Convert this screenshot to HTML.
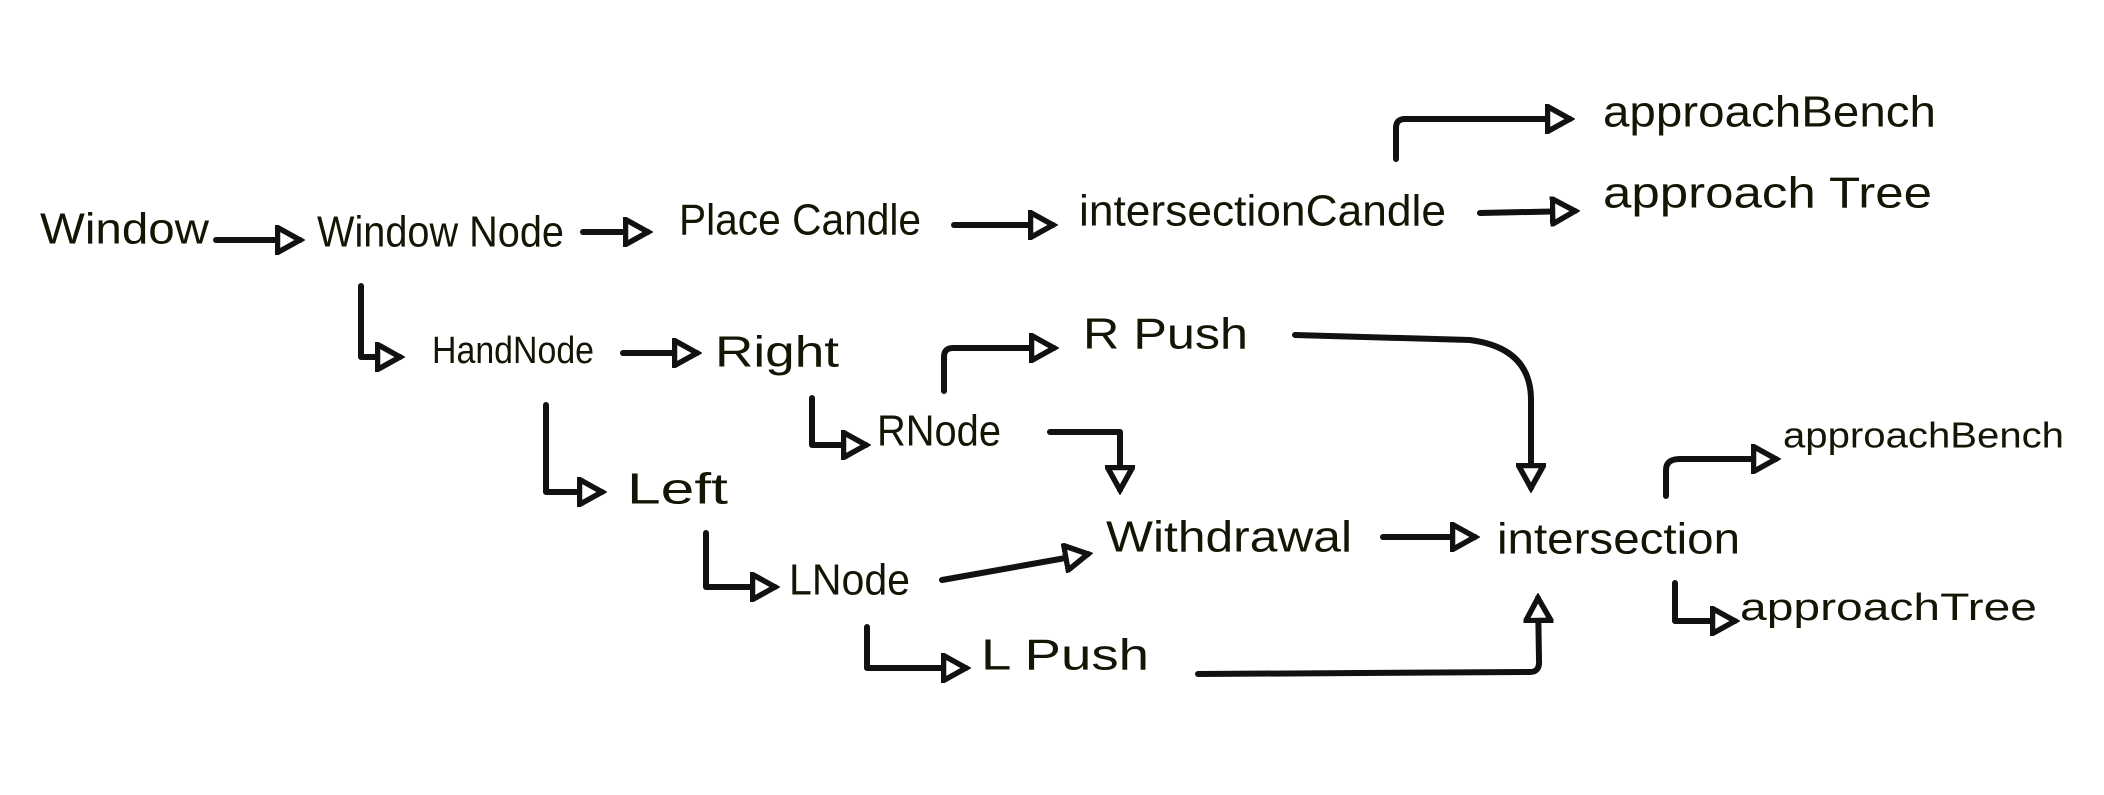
<!DOCTYPE html>
<html><head><meta charset="utf-8"><style>
html,body{margin:0;padding:0;background:#fff;}
svg{display:block}
text{font-family:"Liberation Sans",sans-serif;fill:#151505;dominant-baseline:middle;}
</style></head><body>
<svg width="2104" height="795" viewBox="0 0 2104 795" xmlns="http://www.w3.org/2000/svg">
<defs>
<marker id="a" viewBox="0 0 12 12" refX="10" refY="6" markerWidth="5" markerHeight="5" orient="auto" markerUnits="strokeWidth">
<path d="M1,1 L10,6 L1,11 Z" fill="#fff" stroke="#111" stroke-width="2.2"/>
</marker>
</defs>
<g fill="none" stroke="#111" stroke-width="6" stroke-linecap="round" stroke-linejoin="round" marker-end="url(#a)">
<path d="M216,240 L300,240"/>
<path d="M583,232 L648,232"/>
<path d="M954,225 L1053,225"/>
<path d="M1480,213 L1575,211"/>
<path d="M1396,159 L1396,128 Q1396,119 1405,119 L1570,119"/>
<path d="M361,286 L361,357 L400,357"/>
<path d="M623,353 L697,353"/>
<path d="M944,391 L944,357 Q944,348 953,348 L1054,348"/>
<path d="M1295,335 L1470,340 Q1531,348 1531,400 L1531,488"/>
<path d="M812,398 L812,445 L866,445"/>
<path d="M1050,432 L1120,432 L1120,490"/>
<path d="M546,405 L546,492 L602,492"/>
<path d="M706,533 L706,587 L775,587"/>
<path d="M942,580 L1088,554"/>
<path d="M1383,537 L1475,537"/>
<path d="M867,627 L867,668 L966,668"/>
<path d="M1198,674 L1530,672 Q1540,672 1539,660 L1538,598"/>
<path d="M1666,496 L1666,470 Q1666,459 1680,459 L1776,459"/>
<path d="M1675,583 L1675,621 L1735,621"/>
</g>
<g font-size="44">
<text x="40" y="232" textLength="169" lengthAdjust="spacingAndGlyphs">Window</text>
<text x="317" y="235" textLength="247" lengthAdjust="spacingAndGlyphs">Window Node</text>
<text x="679" y="223" textLength="242" lengthAdjust="spacingAndGlyphs">Place Candle</text>
<text x="1079" y="214" textLength="367" lengthAdjust="spacingAndGlyphs">intersectionCandle</text>
<text x="1603" y="115" textLength="333" lengthAdjust="spacingAndGlyphs">approachBench</text>
<text x="1603" y="196" textLength="329" lengthAdjust="spacingAndGlyphs">approach Tree</text>
<text x="432" y="353" font-size="38" textLength="162" lengthAdjust="spacingAndGlyphs">HandNode</text>
<text x="715" y="355" textLength="124" lengthAdjust="spacingAndGlyphs">Right</text>
<text x="1083" y="337" textLength="165" lengthAdjust="spacingAndGlyphs">R Push</text>
<text x="877" y="434" textLength="124" lengthAdjust="spacingAndGlyphs">RNode</text>
<text x="627" y="492" textLength="101" lengthAdjust="spacingAndGlyphs">Left</text>
<text x="789" y="583" textLength="121" lengthAdjust="spacingAndGlyphs">LNode</text>
<text x="1106" y="540" textLength="246" lengthAdjust="spacingAndGlyphs">Withdrawal</text>
<text x="1497" y="542" textLength="243" lengthAdjust="spacingAndGlyphs">intersection</text>
<text x="981" y="658" textLength="168" lengthAdjust="spacingAndGlyphs">L Push</text>
<text x="1783" y="438" font-size="36" textLength="281" lengthAdjust="spacingAndGlyphs">approachBench</text>
<text x="1740" y="610" font-size="38" textLength="297" lengthAdjust="spacingAndGlyphs">approachTree</text>
</g>
</svg>
</body></html>
